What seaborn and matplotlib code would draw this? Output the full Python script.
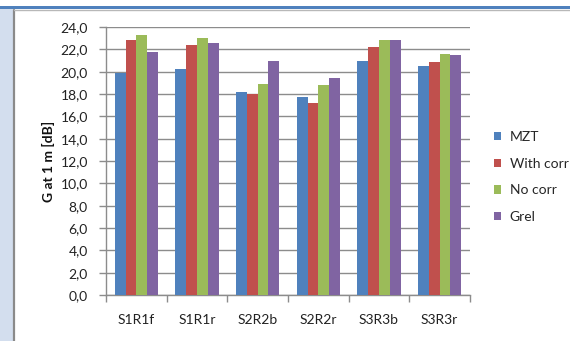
import matplotlib
matplotlib.use("Agg")
import matplotlib.pyplot as plt
import matplotlib.patches as mpatches
import matplotlib.lines as mlines
from matplotlib.ticker import FuncFormatter, FixedLocator
import pandas as pd
import seaborn as sns

# Measured gain per sample position
positions = ["S1R1f", "S1R1r", "S2R2b", "S2R2r", "S3R3b", "S3R3r"]
series_names = ["MZT", "With corr", "No corr", "Grel"]
mzt = [19.9, 20.2, 18.2, 17.7, 21.0, 20.5]
with_corr = [22.8, 22.4, 18.0, 17.2, 22.2, 20.9]
no_corr = [23.3, 23.0, 18.9, 18.8, 22.8, 21.6]
grel = [21.8, 22.6, 21.0, 19.4, 22.8, 21.5]
colors = ["#4F81BD", "#C0504D", "#9BBB59", "#8064A2"]

rows = []
for name, vals in zip(series_names, [mzt, with_corr, no_corr, grel]):
    for pos, v in zip(positions, vals):
        rows.append({"Position": pos, "Series": name, "Gain": v})
df = pd.DataFrame(rows)

sns.set_theme(style="white")
plt.rcParams["font.family"] = ["Lato", "DejaVu Sans"]

fig = plt.figure(figsize=(5.7, 3.41), dpi=100)
fig.patch.set_facecolor("white")

# Window-style frame: light side strip, dark rule, blue header band
fig.add_artist(mpatches.Rectangle((0, 0), 13 / 570, 1 - 9 / 341, transform=fig.transFigure,
                                  facecolor="#D3DEEE", edgecolor="none", zorder=0))
fig.add_artist(mlines.Line2D([14 / 570, 14 / 570], [0, 1 - 9.5 / 341], transform=fig.transFigure,
                             color="#8A8A8A", lw=1.6))
fig.add_artist(mpatches.Rectangle((0, 1 - 9 / 341), 1, 3.3 / 341, transform=fig.transFigure,
                                  facecolor="#4F81BD", edgecolor="none"))
fig.add_artist(mlines.Line2D([14 / 570, 1], [1 - 10 / 341, 1 - 10 / 341], transform=fig.transFigure,
                             color="#B8B8B8", lw=1.0))

ax = fig.add_axes([106 / 570, 1 - 295 / 341, (470 - 106) / 570, (295 - 27) / 341])
sns.barplot(data=df, x="Position", y="Gain", hue="Series", order=positions,
            hue_order=series_names, palette=colors, width=0.71, saturation=1,
            edgecolor="none", ax=ax, zorder=3)

ax.set_ylim(0, 24)
ax.set_xlim(-0.5, len(positions) - 0.5)
ax.set_yticks(range(0, 25, 2))
ax.yaxis.set_major_formatter(FuncFormatter(lambda v, _: f"{v:.1f}".replace(".", ",")))
ax.grid(axis="y", color="#8C8C8C", lw=1.0, zorder=0)
ax.set_axisbelow(True)

for side in ["top", "right"]:
    ax.spines[side].set_visible(False)
for side in ["left", "bottom"]:
    ax.spines[side].set_color("#8C8C8C")
    ax.spines[side].set_linewidth(1.0)

ax.tick_params(axis="y", which="major", length=5, width=1, color="#8C8C8C", direction="out",
               labelsize=10, pad=8, labelcolor="#222222", left=True)
ax.xaxis.set_minor_locator(FixedLocator([i - 0.5 for i in range(len(positions) + 1)]))
ax.tick_params(axis="x", which="minor", length=5, width=1, color="#8C8C8C", direction="out", bottom=True)
ax.tick_params(axis="x", which="major", length=0, labelsize=10, pad=14, labelcolor="#222222")

ax.set_xlabel("")
ax.set_ylabel("G at 1 m [dB]", fontsize=10, fontweight="bold", color="#111111", labelpad=4)

leg = ax.legend(loc="center left", bbox_to_anchor=(1.05, 0.44), frameon=False, fontsize=10,
                handlelength=0.55, handleheight=0.55, handletextpad=0.6, labelspacing=1.05,
                borderaxespad=0)
for h in leg.legend_handles:
    h.set_edgecolor("none")

fig.savefig("out.png", dpi=100, facecolor="white")
